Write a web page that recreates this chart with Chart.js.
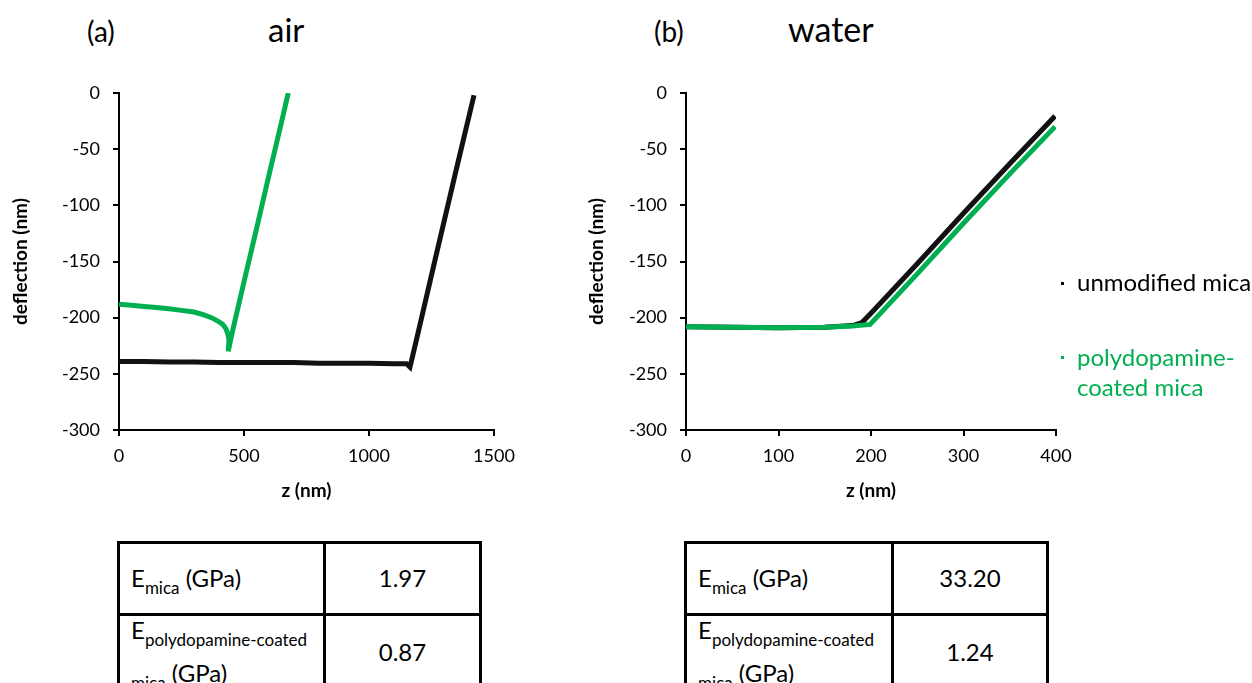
<!DOCTYPE html>
<html>
<head>
<meta charset="utf-8">
<script src="https://cdn.jsdelivr.net/npm/chart.js@4.4.1/dist/chart.umd.min.js"></script>
<style>
  body { margin: 0; width: 1252px; height: 683px; overflow: hidden; background: #fff; font-family: Lato, sans-serif; color: #000; }
  .abs { position: absolute; white-space: nowrap; line-height: 1; }
  canvas { position: absolute; }
  .leg { position: absolute; left: 1077px; font-size: 24px; line-height: 30px; white-space: nowrap; }
  .dot { position: absolute; width: 3px; height: 3px; }
  table.tbl { position: absolute; top: 541px; border-collapse: separate; border-spacing: 0; border: 3px solid #000; table-layout: fixed; width: 365px; }
  table.tbl td { box-sizing: border-box; padding: 0; font-size: 24px; line-height: 22px; white-space: nowrap; }
  td.lab { border-right: 3px solid #000; padding-left: 11px !important; text-align: left; }
  td.val { text-align: center; }
  tr.r1 td { height: 71.5px; border-bottom: 3px solid #000; vertical-align: middle; }
  tr.r2 td { height: 73px; vertical-align: top; }
  tr.r2 td.lab { padding-top: 3px !important; }
  tr.r2 td.val { padding-top: 25px !important; }
  tr.r2 .l2 { margin-top: 21px; }
  sub { font-size: 17px; vertical-align: baseline; position: relative; top: 7px; line-height: 0; }
</style>
</head>
<body>

<div class="abs" style="left:87px; top:17px; font-size:28px;">(a)</div>
<div class="abs" style="left:268px; top:13px; font-size:33px;">air</div>
<div class="abs" style="left:654px; top:17px; font-size:28px;">(b)</div>
<div class="abs" style="left:788px; top:12px; font-size:34px;">water</div>

<canvas id="airChart" width="560" height="460" style="left:0; top:60px;"></canvas>
<canvas id="waterChart" width="540" height="460" style="left:570px; top:60px;"></canvas>

<div class="dot" style="left:1061px; top:282px; background:#000;"></div>
<div class="leg" style="top:267px;">unmodified mica</div>
<div class="dot" style="left:1061px; top:356px; background:#00b050;"></div>
<div class="leg" style="top:342px; color:#00b050;">polydopamine-<br>coated mica</div>

<table class="tbl" style="left:117px;">
  <tr class="r1"><td class="lab" style="width:206px;">E<sub>mica</sub> (GPa)</td><td class="val">1.97</td></tr>
  <tr class="r2"><td class="lab"><div>E<sub>polydopamine-coated</sub></div><div class="l2"><sub>mica</sub> (GPa)</div></td><td class="val">0.87</td></tr>
</table>

<table class="tbl" style="left:684px;">
  <tr class="r1"><td class="lab" style="width:207px;">E<sub>mica</sub> (GPa)</td><td class="val">33.20</td></tr>
  <tr class="r2"><td class="lab"><div>E<sub>polydopamine-coated</sub></div><div class="l2"><sub>mica</sub> (GPa)</div></td><td class="val">1.24</td></tr>
</table>

<script>
// (a) air - unmodified mica
const airZUnmod = [0, 100, 200, 300, 400, 500, 600, 700, 800, 900, 1000, 1100, 1150, 1164, 1200, 1270, 1345, 1420];
const airDUnmod = [-239, -239, -239.5, -239.5, -240, -240, -240, -240, -240.5, -240.5, -240.5, -241, -241, -244, -210, -143, -72, -2];
// (a) air - polydopamine-coated mica
const airZCoat = [0, 50, 100, 150, 200, 250, 300, 340, 370, 395, 415, 428, 436, 440, 437, 450, 500, 550, 600, 650, 677];
const airDCoat = [-188, -189, -190, -191, -192, -193.5, -195, -197.5, -200, -203, -206, -210, -215, -220, -230, -216, -168, -121, -73, -26, 0];

// (b) water
const waterZUnmod = [0, 50, 100, 150, 180, 190, 200, 250, 300, 350, 399];
const waterDUnmod = [-208, -208.5, -209, -208.5, -207, -204.5, -196, -152, -107, -63, -20.5];
const waterZCoat = [0, 50, 100, 150, 180, 199, 250, 300, 350, 399];
const waterDCoat = [-208, -208.5, -209, -208.5, -207.5, -206, -161, -116, -72, -30];

const yTicks = [0, -50, -100, -150, -200, -250, -300];
const airXTicks = [0, 500, 1000, 1500];
const waterXTicks = [0, 100, 200, 300, 400];

const GREEN = "#00b050";

Chart.defaults.font.family = "Lato";
Chart.defaults.color = "#000";

function toPoints(xs, ys) {
  return xs.map((x, i) => ({ x: x, y: ys[i] }));
}

function makeChart(id, xTicks, unmod, coat, yAxisWidth, yTitlePad, rightPad) {
  const ctx = document.getElementById(id).getContext("2d");
  return new Chart(ctx, {
    type: "scatter",
    data: {
      datasets: [
        {
          label: "polydopamine-coated mica",
          data: coat,
          showLine: true,
          borderColor: GREEN,
          backgroundColor: GREEN,
          borderWidth: 5,
          pointRadius: 0,
          tension: 0,
        },
        {
          label: "unmodified mica",
          data: unmod,
          showLine: true,
          borderColor: "#111",
          backgroundColor: "#111",
          borderWidth: 5,
          pointRadius: 0,
          tension: 0,
        },
      ],
    },
    options: {
      responsive: false,
      animation: false,
      layout: { padding: { top: 33, bottom: 10, left: 0, right: rightPad } },
      plugins: { legend: { display: false }, tooltip: { enabled: false } },
      scales: {
        x: {
          type: "linear",
          min: xTicks[0],
          max: xTicks[xTicks.length - 1],
          afterBuildTicks: (scale) => { scale.ticks = xTicks.map((v) => ({ value: v })); },
          afterFit: (scale) => { scale.height = 80; },
          ticks: {
            font: { size: 18 },
            padding: 9,
            callback: (v) => String(v),
          },
          grid: { drawOnChartArea: false, drawTicks: true, tickLength: 6, tickColor: "#000", lineWidth: 2 },
          border: { color: "#000", width: 2 },
          title: { display: true, text: "z (nm)", font: { size: 19, weight: "bold" }, padding: { top: 0, bottom: 7.6 } },
        },
        y: {
          type: "linear",
          min: -300,
          max: 0,
          afterBuildTicks: (scale) => { scale.ticks = yTicks.map((v) => ({ value: v })); },
          afterFit: (scale) => { scale.width = yAxisWidth; },
          ticks: {
            font: { size: 18 },
            padding: 13,
            callback: (v) => String(v),
          },
          grid: { drawOnChartArea: false, drawTicks: true, tickLength: 6, tickColor: "#000", lineWidth: 2 },
          border: { color: "#000", width: 2 },
          title: { display: true, text: "deflection (nm)", font: { size: 19, weight: "bold" }, padding: { top: yTitlePad, bottom: 0 } },
        },
      },
    },
  });
}

makeChart("airChart", airXTicks, toPoints(airZUnmod, airDUnmod), toPoints(airZCoat, airDCoat), 119, 9.6, 66);
makeChart("waterChart", waterXTicks, toPoints(waterZUnmod, waterDUnmod), toPoints(waterZCoat, waterDCoat), 116, 15.6, 54);
</script>
</body>
</html>
